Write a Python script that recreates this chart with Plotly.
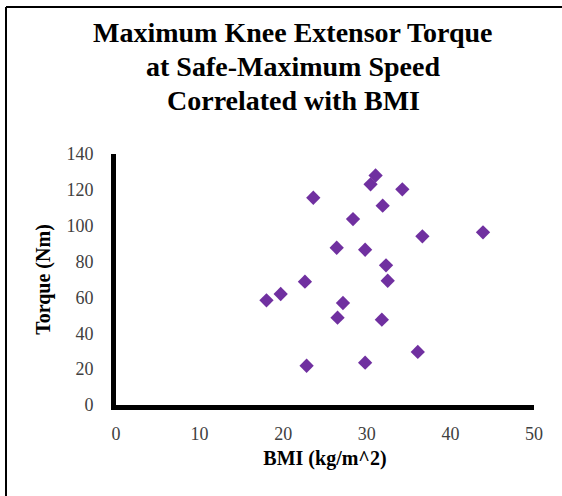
import plotly.graph_objects as go

bmi = [18.0, 19.7, 22.6, 22.8, 23.6, 26.4, 26.5, 27.15, 28.35, 29.8, 29.8,
       30.45, 31.05, 31.9, 31.8, 32.3, 32.5, 34.25, 36.1, 36.65, 43.9]
torque = [58.4, 61.9, 68.8, 21.9, 115.6, 87.7, 48.7, 56.9, 103.7, 23.6, 86.6,
          123.1, 128.0, 111.2, 47.6, 77.9, 69.3, 120.3, 29.6, 94.1, 96.3]

title_lines = ["Maximum Knee Extensor Torque",
               "at Safe-Maximum Speed",
               "Correlated with BMI"]
x_title = "BMI (kg/m^2)"
y_title = "Torque (Nm)"

serif = "Liberation Serif"

fig = go.Figure(go.Scatter(
    x=bmi, y=torque, mode="markers",
    marker=dict(symbol="diamond", size=11, color="#7030A0",
                line=dict(width=0)),
    showlegend=False,
))

W, H = 562, 496
L, R, T, B = 116, 28, 154, 91
pw, ph = W - L - R, H - T - B

def px_to_paper_x(px):
    return (px - L) / pw

def px_to_paper_y(py):
    return (H - B - py) / ph

title_tops = [15, 49, 83]
annotations = [
    dict(text="<b>" + line + "</b>", xref="paper", yref="paper",
         x=px_to_paper_x(293), y=px_to_paper_y(top), xanchor="center",
         yanchor="top", showarrow=False, align="center",
         font=dict(size=28, family=serif, color="#000000"))
    for line, top in zip(title_lines, title_tops)
]

fig.update_layout(
    width=W, height=H,
    margin=dict(l=L, r=R, t=T, b=B),
    paper_bgcolor="white", plot_bgcolor="white",
    font=dict(family=serif, color="#000000"),
    xaxis=dict(range=[0, 50], dtick=10, showgrid=False, zeroline=False,
               showline=True, linecolor="black", linewidth=5,
               ticks="", ticklabelstandoff=8,
               tickfont=dict(size=18, family=serif, color="#404040"),
               title=dict(text="<b>" + x_title + "</b>", standoff=10,
                          font=dict(size=20, family=serif, color="#000000"))),
    yaxis=dict(range=[0, 140], dtick=20, showgrid=False, zeroline=False,
               showline=True, linecolor="black", linewidth=5,
               ticks="", ticklabelstandoff=14,
               tickfont=dict(size=18, family=serif, color="#404040"),
               title=dict(text="<b>" + y_title + "</b>", standoff=12,
                          font=dict(size=20, family=serif, color="#000000"))),
    annotations=annotations,
    shapes=[
        dict(type="line", xref="paper", yref="paper",
             x0=px_to_paper_x(6), x1=px_to_paper_x(W + 10),
             y0=px_to_paper_y(7), y1=px_to_paper_y(7),
             line=dict(color="black", width=2)),
        dict(type="line", xref="paper", yref="paper",
             x0=px_to_paper_x(6), x1=px_to_paper_x(6),
             y0=px_to_paper_y(7), y1=px_to_paper_y(H + 10),
             line=dict(color="black", width=2)),
    ],
)

fig.write_html("out.html", config={"displayModeBar": False},
               post_script="document.body.style.margin='0';document.body.style.overflow='hidden';")
